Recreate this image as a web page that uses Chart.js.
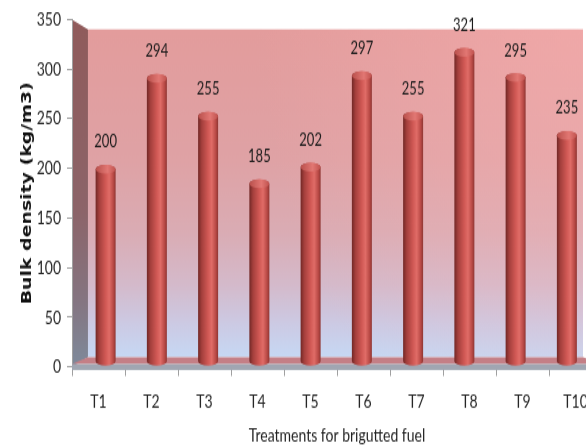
<!DOCTYPE html>
<html>
<head>
<meta charset="utf-8">
<title>Bulk density of briquetted fuel</title>
<script src="https://cdn.jsdelivr.net/npm/chart.js@4.4.1/dist/chart.umd.min.js"></script>
<style>
  html, body { margin: 0; padding: 0; background: #ffffff; overflow: hidden; }
  #wrap { position: relative; width: 586px; height: 447px; overflow: hidden; }
  #c { position: absolute; left: 0; top: 0; transform-origin: 0 0; }
</style>
</head>
<body>
<div id="wrap"><canvas id="c" width="620" height="331"></canvas></div>
<script>
// ---- data ----
const categories = ['T1', 'T2', 'T3', 'T4', 'T5', 'T6', 'T7', 'T8', 'T9', 'T10'];
const bulkDensity = [200, 294, 255, 185, 202, 297, 255, 321, 295, 235];
const yMin = 0;
const yMax = 350;
const yStep = 50;
const xTitle = 'Treatments for brigutted fuel';
const yTitle = 'Bulk density (kg/m3)';

// ---- layout ----
// The canvas is drawn at a reduced height and stretched vertically,
// which gives the tall, condensed lettering of the original figure.
const CANVAS_W = 620, CANVAS_H = 331, PAGE_H = 447;
const STRETCH = PAGE_H / CANVAS_H;
const PLOT_TOP = 18 / STRETCH;
const PLOT_BOTTOM = 367 / STRETCH;
const AXIS_W = 72;
const canvas = document.getElementById('c');
canvas.style.transform = 'scale(1,' + STRETCH + ')';

// simple perspective for the 3-D box: back wall and mid-depth plane
const VANISH_X = 314;
const BACK = { kx: 0.934, ky: 0.943 };
const MID = { kx: 0.967, ky: 0.9715 };
function project(area, x, y, k) {
  const cy = (area.top + area.bottom) / 2;
  return { x: VANISH_X + (x - VANISH_X) * k.kx, y: cy + (y - cy) * k.ky };
}

const box3d = {
  id: 'box3d',
  beforeDraw(chart) {
    const ctx = chart.ctx, a = chart.chartArea;
    const tl = project(a, a.left, a.top, BACK);
    const br = project(a, a.right, a.bottom, BACK);
    ctx.save();
    // back wall
    const g = ctx.createLinearGradient(0, tl.y, 0, br.y);
    g.addColorStop(0.00, '#e39c9c');
    g.addColorStop(0.40, '#dfa2a5');
    g.addColorStop(0.62, '#daacb4');
    g.addColorStop(0.78, '#d4bacb');
    g.addColorStop(0.90, '#cccae4');
    g.addColorStop(1.00, '#c6d8f4');
    ctx.fillStyle = g;
    ctx.fillRect(tl.x, tl.y, br.x - tl.x, br.y - tl.y);
    const glow = ctx.createRadialGradient(br.x, tl.y, 0, br.x, tl.y, 330);
    glow.addColorStop(0, 'rgba(255,182,182,0.45)');
    glow.addColorStop(1, 'rgba(255,182,182,0)');
    ctx.fillStyle = glow;
    ctx.fillRect(tl.x, tl.y, br.x - tl.x, br.y - tl.y);
    // left side wall
    const s = ctx.createLinearGradient(0, a.top, 0, a.bottom);
    s.addColorStop(0, '#905b5b');
    s.addColorStop(0.55, '#8c6469');
    s.addColorStop(0.8, '#857480');
    s.addColorStop(1, '#7e8a9b');
    ctx.fillStyle = s;
    ctx.beginPath();
    ctx.moveTo(a.left, a.top);
    ctx.lineTo(tl.x, tl.y);
    ctx.lineTo(tl.x, br.y);
    ctx.lineTo(a.left, a.bottom);
    ctx.closePath();
    ctx.fill();
    ctx.restore();
  },
  beforeDatasetsDraw(chart) {
    const ctx = chart.ctx, a = chart.chartArea;
    const tl = project(a, a.left, a.top, BACK);
    const br = project(a, a.right, a.bottom, BACK);
    const edge = 2.2;
    ctx.save();
    // floor
    ctx.fillStyle = '#c47f86';
    ctx.beginPath();
    ctx.moveTo(a.left, a.bottom - edge);
    ctx.lineTo(a.right, a.bottom - edge);
    ctx.lineTo(br.x, br.y);
    ctx.lineTo(tl.x, br.y);
    ctx.closePath();
    ctx.fill();
    // front face of the floor
    ctx.fillStyle = '#a0a6b2';
    ctx.fillRect(a.left, a.bottom - edge, a.right - a.left, edge * 2);
    ctx.restore();
  },
  afterDatasetsDraw(chart) {
    const ctx = chart.ctx, a = chart.chartArea;
    const meta = chart.getDatasetMeta(0);
    const values = chart.data.datasets[0].data;
    ctx.save();
    meta.data.forEach((el, i) => {
      const top = project(a, el.x, el.y, MID);
      const base = project(a, el.x, el.base, MID);
      const x = top.x;
      const r = el.width * MID.kx / 2;
      const ry = 3.2;
      // cylinder body
      const g = ctx.createLinearGradient(x - r, 0, x + r, 0);
      g.addColorStop(0.00, '#722826');
      g.addColorStop(0.18, '#a43f3c');
      g.addColorStop(0.50, '#d15955');
      g.addColorStop(0.68, '#e06c67');
      g.addColorStop(0.88, '#b94a46');
      g.addColorStop(1.00, '#8f3633');
      ctx.fillStyle = g;
      ctx.beginPath();
      ctx.moveTo(x - r, top.y);
      ctx.lineTo(x - r, base.y);
      ctx.ellipse(x, base.y, r, ry, 0, Math.PI, 0, true);
      ctx.lineTo(x + r, top.y);
      ctx.ellipse(x, top.y, r, ry, 0, 0, Math.PI, true);
      ctx.closePath();
      ctx.fill();
      // cap
      const cg = ctx.createLinearGradient(x - r, 0, x + r, 0);
      cg.addColorStop(0, '#b9504c');
      cg.addColorStop(0.6, '#e27773');
      cg.addColorStop(1, '#c0524e');
      ctx.fillStyle = cg;
      ctx.beginPath();
      ctx.ellipse(x, top.y, r, ry, 0, 0, Math.PI * 2);
      ctx.fill();
      // value label
      ctx.fillStyle = '#1a1a1a';
      ctx.font = '13px Lato';
      ctx.textAlign = 'center';
      ctx.textBaseline = 'middle';
      ctx.fillText(String(values[i]), x, top.y - 20);
    });
    ctx.restore();
  }
};

new Chart(canvas, {
  type: 'bar',
  data: {
    labels: categories,
    datasets: [{
      label: 'Bulk density',
      data: bulkDensity,
      backgroundColor: 'rgba(0,0,0,0)',
      borderWidth: 0,
      barPercentage: 0.39,
      categoryPercentage: 1
    }]
  },
  options: {
    responsive: false,
    animation: false,
    devicePixelRatio: 1,
    layout: { padding: { top: PLOT_TOP, right: 18, bottom: 0, left: 0 } },
    plugins: { legend: { display: false }, tooltip: { enabled: false } },
    font: { family: 'Lato' },
    scales: {
      x: {
        type: 'category',
        offset: true,
        grid: { display: true, offset: true, drawOnChartArea: false, drawTicks: true, tickLength: 6.7, color: '#a0a0a0' },
        border: { display: false },
        ticks: { padding: 10.5, color: '#262626', font: { family: 'Lato', size: 14 } },
        title: { display: true, text: xTitle, color: '#222222', font: { family: 'Lato', size: 14 }, padding: { top: 0, bottom: 0 } },
        afterFit(scale) { scale.height = CANVAS_H - PLOT_BOTTOM; }
      },
      y: {
        min: yMin,
        max: yMax,
        ticks: { stepSize: yStep, padding: 6, color: '#262626', font: { family: 'Lato', size: 14 } },
        grid: { display: true, drawOnChartArea: false, drawTicks: true, tickLength: 5, color: '#a0a0a0' },
        border: { display: true, color: '#a0a0a0' },
        title: { display: true, text: yTitle, color: '#111111', font: { family: 'DejaVu Sans', weight: 'bold', size: 14 }, padding: { top: 19, bottom: 0 } },
        afterFit(scale) { scale.width = AXIS_W; }
      }
    }
  },
  plugins: [box3d]
});
</script>
</body>
</html>
